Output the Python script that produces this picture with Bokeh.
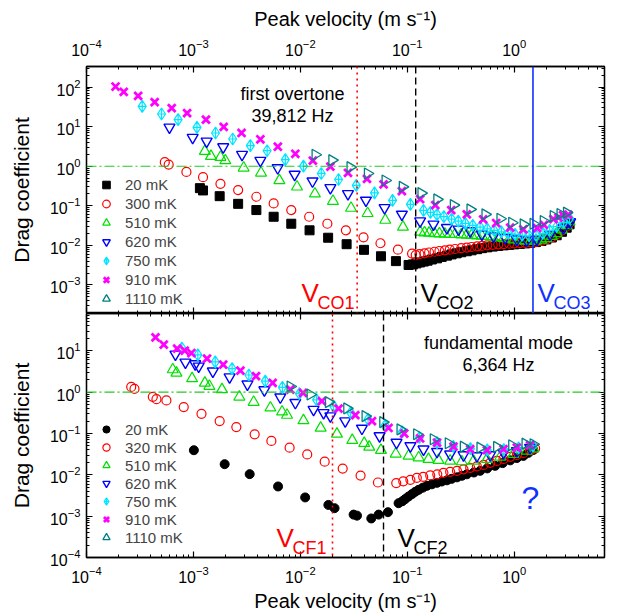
import math
from bokeh.plotting import figure
from bokeh.models import (LogAxis, FixedTicker, Span, Label, Legend, LegendItem, Range1d)
from bokeh.layouts import column
from bokeh.embed import file_html
from bokeh.resources import INLINE

FONT = "Liberation Sans"

# ---------------- ranges / markers ----------------
X_RANGE = (1e-4, 7.0)
TOP_Y_RANGE = (1.9e-4, 330.0)
BOT_Y_RANGE = (1e-4, 80.0)
X_DECADES = [1e-4, 1e-3, 1e-2, 1e-1, 1e0]
TOP_Y_DECADES = [1e-3, 1e-2, 1e-1, 1e0, 1e1, 1e2]
BOT_Y_DECADES = [1e-4, 1e-3, 1e-2, 1e-1, 1e0, 1e1]

V_CO1, V_CO2, V_CO3 = 0.034, 0.12, 1.5
V_CF1, V_CF2 = 0.02, 0.06
C_REF = 1.0

# ---------------- top panel: first overtone 39,812 Hz ----------------
top_labels = ["20 mK", "300 mK", "510 mK", "620 mK", "750 mK", "910 mK", "1110 mK"]

top_20_v = [1.15e-3, 1.23e-3, 1.76e-3, 2.62e-3, 3.88e-3, 5.63e-3, 8.23e-3, 0.0122, 0.0182, 0.0271,
            0.0394, 0.0568, 0.0784, 0.103, 0.113, 0.122, 0.132, 0.143, 0.155, 0.17, 0.19, 0.21,
            0.235, 0.26, 0.29, 0.32, 0.36, 0.4, 0.45, 0.5, 0.56, 0.63, 0.71, 0.8, 0.9, 1.0, 1.13,
            1.27, 1.42, 1.6, 1.8, 2.0, 2.25, 2.5, 2.8, 3.1, 3.3]
top_20_c = [0.279, 0.244, 0.175, 0.112, 0.078, 0.0528, 0.0352, 0.024, 0.0156, 0.0107,
            0.0077, 0.0053, 0.0040, 0.0032, 0.0033, 0.0035, 0.0037, 0.0039, 0.0041, 0.0044, 0.0047,
            0.0051, 0.0055, 0.0059, 0.0063, 0.0067, 0.0071, 0.0075, 0.0080, 0.0085, 0.0089, 0.0093,
            0.0097, 0.0100, 0.0103, 0.0106, 0.0109, 0.0112, 0.0116, 0.0121, 0.0129, 0.0141, 0.0158,
            0.018, 0.022, 0.028, 0.034]

top_300_v = [5.4e-4, 5.87e-4, 8.6e-4, 1.23e-3, 1.79e-3, 2.62e-3, 3.88e-3, 5.63e-3, 8.23e-3, 0.0121,
             0.0179, 0.0267, 0.039, 0.0562, 0.0818, 0.111, 0.12, 0.13, 0.145, 0.16, 0.18, 0.2, 0.225,
             0.25, 0.28, 0.32, 0.36, 0.4, 0.45, 0.5, 0.56, 0.63, 0.71, 0.8, 0.9, 1.0, 1.13, 1.27,
             1.42, 1.6, 1.8, 2.0, 2.25, 2.5, 2.8, 3.1, 3.3]
top_300_c = [1.26, 1.10, 0.718, 0.528, 0.358, 0.249, 0.169, 0.115, 0.078, 0.0528,
             0.0352, 0.024, 0.016, 0.0113, 0.0078, 0.0062, 0.0057, 0.0060, 0.0063, 0.0066, 0.0069,
             0.0072, 0.0075, 0.0078, 0.0081, 0.0085, 0.0088, 0.0091, 0.0094, 0.0097, 0.0100, 0.0103,
             0.0106, 0.0108, 0.0110, 0.0112, 0.0114, 0.0116, 0.0119, 0.0123, 0.0130, 0.0142, 0.016,
             0.019, 0.024, 0.030, 0.037]

top_510_v = [1.28e-3, 1.46e-3, 1.79e-3, 1.99e-3, 2.95e-3, 4.29e-3, 6.37e-3, 9.31e-3, 0.0137, 0.0202,
             0.0298, 0.0426, 0.0623, 0.0912, 0.132, 0.145, 0.16, 0.18, 0.2, 0.225, 0.25, 0.28, 0.32,
             0.36, 0.4, 0.45, 0.5, 0.56, 0.63, 0.71, 0.8, 0.9, 1.0, 1.13, 1.27, 1.42, 1.6, 1.8, 2.0,
             2.25, 2.5, 2.8, 3.1, 3.3]
top_510_c = [2.39, 1.79, 1.69, 1.39, 0.906, 0.678, 0.436, 0.301, 0.201, 0.131,
             0.0875, 0.0644, 0.0436, 0.0291, 0.0218, 0.021, 0.0205, 0.020, 0.0198, 0.0195, 0.0192,
             0.019, 0.0187, 0.0183, 0.018, 0.0176, 0.0172, 0.0167, 0.0162, 0.0156, 0.015, 0.0144,
             0.0138, 0.0133, 0.013, 0.0129, 0.013, 0.0137, 0.015, 0.017, 0.020, 0.025, 0.032, 0.040]

top_620_v = [5.97e-4, 9.84e-4, 1.33e-3, 1.90e-3, 2.85e-3, 4.23e-3, 6.14e-3, 8.85e-3, 0.013, 0.0191,
             0.0279, 0.0411, 0.0614, 0.0891, 0.132, 0.176, 0.235, 0.302, 0.388, 0.499, 0.641, 0.825,
             1.06, 1.31, 1.63, 2.17, 2.89, 3.34]
top_620_c = [9.6, 5.28, 4.26, 3.06, 1.97, 1.39, 0.906, 0.618, 0.419, 0.284,
             0.201, 0.137, 0.089, 0.0607, 0.0412, 0.034, 0.0279, 0.0255, 0.0231, 0.019, 0.0172,
             0.0156, 0.0143, 0.0134, 0.0143, 0.019, 0.0279, 0.039]

top_750_v = [3.32e-4, 5.03e-4, 7.19e-4, 1.08e-3, 1.61e-3, 2.33e-3, 3.41e-3, 4.89e-3, 7.24e-3, 0.0107,
             0.0157, 0.0228, 0.0334, 0.0494, 0.0729, 0.107, 0.142, 0.165, 0.19, 0.22, 0.26, 0.3, 0.35,
             0.41, 0.48, 0.56, 0.65, 0.76, 0.88, 1.02, 1.19, 1.38, 1.6, 1.86, 2.15, 2.5, 2.9, 3.3]
top_750_c = [32.4, 20.8, 15.0, 9.6, 6.9, 4.87, 3.32, 2.46, 1.47, 1.0,
             0.655, 0.462, 0.327, 0.212, 0.137, 0.108, 0.0766, 0.068, 0.06, 0.053, 0.046, 0.041,
             0.036, 0.032, 0.029, 0.026, 0.024, 0.022, 0.020, 0.019, 0.018, 0.0175, 0.018, 0.02,
             0.024, 0.03, 0.038, 0.048]

top_910_v = [1.87e-4, 2.23e-4, 3.04e-4, 4.34e-4, 6.27e-4, 8.73e-4, 1.31e-3, 1.92e-3, 2.82e-3, 4.23e-3,
             6.16e-3, 8.98e-3, 0.0131, 0.0191, 0.0279, 0.042, 0.0601, 0.0891, 0.132, 0.183, 0.258,
             0.361, 0.513, 0.679, 0.918, 1.22, 1.64, 1.9, 2.33, 2.6, 2.87, 3.2]
top_910_c = [103, 75, 59.7, 41.7, 29.4, 22.0, 15.0, 9.9, 6.9, 4.79,
             3.10, 2.06, 1.38, 0.97, 0.678, 0.48, 0.346, 0.234, 0.148, 0.104, 0.078,
             0.061, 0.0454, 0.0367, 0.0282, 0.0255, 0.0274, 0.033, 0.0462, 0.05, 0.0583, 0.06]

top_1110_v = [0.0138, 0.0198, 0.0293, 0.0426, 0.0623, 0.0903, 0.135, 0.190, 0.271, 0.388, 0.536,
              0.740, 0.953, 1.22, 1.51, 1.88, 2.33, 2.7, 3.1]
top_1110_c = [1.95, 1.42, 0.944, 0.655, 0.436, 0.301, 0.209, 0.145, 0.104, 0.081, 0.0607,
              0.0471, 0.0373, 0.034, 0.0352, 0.0412, 0.055, 0.062, 0.067]

# ---------------- bottom panel: fundamental mode 6,364 Hz ----------------
bot_labels = ["20 mK", "320 mK", "510 mK", "620 mK", "750 mK", "910 mK", "1110 mK"]

bot_20_v = [1.01e-3, 1.96e-3, 3.36e-3, 6.19e-3, 0.0111, 0.0183, 0.0209, 0.0315, 0.0339, 0.0461,
            0.054, 0.066, 0.083, 0.09, 0.0958, 0.103, 0.111, 0.119, 0.128, 0.14, 0.153, 0.17, 0.19,
            0.21, 0.235, 0.26, 0.292, 0.325, 0.361, 0.42, 0.481, 0.56, 0.664, 0.78, 0.918, 1.06,
            1.22, 1.36, 1.51]
bot_20_c = [0.0394, 0.0181, 0.0104, 5.23e-3, 2.84e-3, 1.87e-3, 1.56e-3, 1.09e-3, 1.03e-3, 8.8e-4,
            1.09e-3, 1.25e-3, 2.06e-3, 2.3e-3, 2.6e-3, 3.0e-3, 3.43e-3, 3.9e-3, 4.35e-3, 4.9e-3,
            5.43e-3, 5.9e-3, 6.41e-3, 6.9e-3, 7.37e-3, 8.0e-3, 8.7e-3, 9.5e-3, 0.0103, 0.0114,
            0.0125, 0.0143, 0.0165, 0.0192, 0.0224, 0.0255, 0.0287, 0.034, 0.040]

bot_320_v = [2.62e-4, 2.81e-4, 4.17e-4, 4.51e-4, 5.59e-4, 8.12e-4, 1.19e-3, 1.76e-3, 2.52e-3, 3.74e-3,
             5.36e-3, 7.94e-3, 0.0116, 0.0169, 0.0249, 0.0366, 0.0532, 0.0789, 0.0918, 0.107, 0.123,
             0.141, 0.164, 0.191, 0.218, 0.252, 0.292, 0.336, 0.388, 0.448, 0.517, 0.597, 0.689,
             0.795, 0.918, 1.06, 1.22, 1.41, 1.57]
bot_320_c = [1.34, 1.20, 0.77, 0.678, 0.631, 0.435, 0.300, 0.2, 0.143, 0.0957,
             0.066, 0.0455, 0.0312, 0.0208, 0.0142, 0.0096, 6.52e-3, 6.31e-3, 6.97e-3, 7.58e-3,
             8.47e-3, 8.95e-3, 9.7e-3, 0.0103, 0.0112, 0.0118, 0.0125, 0.0136, 0.0148, 0.016,
             0.0174, 0.0195, 0.0217, 0.0243, 0.0272, 0.0303, 0.0339, 0.0389, 0.0435]

bot_510_v = [6.41e-4, 6.94e-4, 9.72e-4, 1.28e-3, 1.41e-3, 1.85e-3, 2.69e-3, 3.66e-3, 5.25e-3, 6.75e-3,
             7.51e-3, 0.0107, 0.0155, 0.022, 0.0306, 0.0396, 0.0441, 0.0568, 0.0781, 0.103, 0.128,
             0.158, 0.196, 0.252, 0.324, 0.417, 0.556, 0.740, 0.985, 1.31, 1.51]
bot_510_c = [3.52, 2.92, 2.14, 1.67, 1.40, 1.16, 0.77, 0.574, 0.419, 0.335,
             0.279, 0.206, 0.136, 0.0973, 0.0686, 0.058, 0.0473, 0.0394, 0.0321, 0.0287, 0.0261,
             0.0239, 0.0226, 0.0217, 0.0209, 0.0217, 0.0239, 0.0272, 0.0315, 0.0379, 0.043]

bot_620_v = [6.79e-4, 8.42e-4, 1.04e-3, 1.12e-3, 1.52e-3, 2.18e-3, 3.2e-3, 4.61e-3, 6.5e-3, 8.98e-3,
             0.0133, 0.0165, 0.0191, 0.0263, 0.0377, 0.0551, 0.0794, 0.107, 0.142, 0.19, 0.252,
             0.336, 0.448, 0.597, 0.795, 1.06, 1.41]
bot_620_c = [8.24, 5.28, 4.81, 4.23, 3.21, 2.32, 1.56, 1.13, 0.758, 0.558,
             0.379, 0.317, 0.264, 0.2, 0.133, 0.0871, 0.0607, 0.05, 0.0416, 0.0364, 0.0315,
             0.0303, 0.0287, 0.0303, 0.0345, 0.0379, 0.0455]

bot_750_v = [7.8e-4, 1.1e-3, 1.6e-3, 2.3e-3, 3.3e-3, 4.7e-3, 6.8e-3, 9.8e-3, 0.0142, 0.0205, 0.0296,
             0.043, 0.062, 0.09, 0.13, 0.19, 0.27, 0.39, 0.56, 0.8, 1.1, 1.5]
bot_750_c = [11.7, 8.0, 5.4, 3.7, 2.6, 1.85, 1.3, 0.92, 0.65, 0.46, 0.32,
             0.22, 0.155, 0.11, 0.08, 0.06, 0.049, 0.043, 0.040, 0.041, 0.045, 0.05]

bot_910_v = [4.42e-4, 5.28e-4, 7.04e-4, 8.29e-4, 9.58e-4, 1.34e-3, 1.9e-3, 2.75e-3, 3.85e-3, 5.51e-3,
             8.06e-3, 0.0106, 0.0159, 0.0228, 0.0327, 0.0468, 0.0668, 0.0937, 0.132, 0.19, 0.271,
             0.388, 0.556, 0.795, 1.06, 1.41]
bot_910_c = [21.1, 14.1, 11.3, 10.1, 8.85, 6.49, 4.65, 3.33, 2.43, 1.68,
             1.16, 0.962, 0.607, 0.40, 0.279, 0.2, 0.136, 0.1, 0.0758, 0.06, 0.0481,
             0.0416, 0.0394, 0.0416, 0.0455, 0.052]

bot_1110_v = [8.06e-3, 0.0124, 0.0184, 0.0273, 0.0405, 0.0593, 0.086, 0.123, 0.176, 0.243, 0.336,
              0.481, 0.689, 0.953, 1.27, 1.51]
bot_1110_c = [1.37, 0.88, 0.574, 0.405, 0.264, 0.189, 0.126, 0.0957, 0.0725, 0.058, 0.0481,
              0.0455, 0.0473, 0.052, 0.0568, 0.055]

# marker styles: (marker, line colour, fill colour, size, line width, angle)
STYLES = [
    ("square", "black", "black", 9, 1, 0.0),
    ("circle", "#FF0000", None, 9, 1.2, 0.0),
    ("triangle", "#00E000", None, 11, 1.2, 0.0),
    ("inverted_triangle", "#0000FF", None, 11, 1.4, 0.0),
    ("diamond_cross", "#00E5FF", None, 12, 1.2, 0.0),
    ("x", "#FF00FF", None, 11, 2.8, 0.0),
    ("triangle", "#008080", None, 11, 1.3, -math.pi / 2),
]
BOT_STYLES = [("circle", "black", "black", 9, 1, 0.0)] + STYLES[1:]

MINORS = [m * 10.0 ** k for k in range(-5, 3) for m in range(2, 10)]


def style_axis(ax, majors, labels=True):
    ax.ticker = FixedTicker(ticks=majors, minor_ticks=MINORS)
    ax.major_tick_in = 6
    ax.major_tick_out = 0
    ax.minor_tick_in = 3
    ax.minor_tick_out = 0
    ax.axis_line_color = "black"
    ax.axis_line_width = 1.3
    ax.major_tick_line_color = "black"
    ax.major_tick_line_width = 1.2
    ax.minor_tick_line_color = "black"
    ax.minor_tick_line_width = 1.0
    if labels:
        ax.major_label_text_font = FONT
        ax.major_label_text_font_size = "16px"
        ax.major_label_text_color = "black"
        ax.axis_label_text_font = FONT
        ax.axis_label_text_font_style = "normal"
        ax.axis_label_text_color = "black"
    else:
        ax.major_label_text_font_size = "1px"
        ax.major_label_text_alpha = 0
        ax.major_label_standoff = 0


def make_panel(height, yr, ydec, xlabel_loc, borders, x_standoffs):
    p = figure(width=620, height=height, x_axis_type="log", y_axis_type="log",
               x_range=Range1d(*X_RANGE), y_range=Range1d(*yr),
               x_axis_location=xlabel_loc, output_backend="svg", toolbar_location=None,
               min_border_left=86, min_border_right=16,
               min_border_top=borders[0], min_border_bottom=borders[1])
    p.xgrid.visible = False
    p.ygrid.visible = False
    p.outline_line_color = "black"
    p.outline_line_width = 1.3
    p.background_fill_color = "white"
    p.border_fill_color = "white"
    xa = p.xaxis[0]
    style_axis(xa, X_DECADES)
    xa.axis_label = "Peak velocity (m s\u207b\u00b9)"
    xa.axis_label_text_font_size = "20px"
    xa.major_label_standoff = x_standoffs[0]
    xa.axis_label_standoff = x_standoffs[1]
    ya = p.yaxis[0]
    style_axis(ya, ydec)
    ya.axis_label = "Drag coefficient"
    ya.axis_label_text_font_size = "21px"
    ya.major_label_standoff = 6
    ya.axis_label_standoff = 14
    other = "below" if xlabel_loc == "above" else "above"
    xb = LogAxis()
    style_axis(xb, X_DECADES, labels=False)
    p.add_layout(xb, other)
    yb = LogAxis()
    style_axis(yb, ydec, labels=False)
    p.add_layout(yb, "right")
    p.add_layout(Span(location=C_REF, dimension="width", line_color="#22CC22",
                      line_dash="10 3 2 3", line_width=1.1))
    return p


def add_series(p, series, labels, styles, legend_loc, row_h):
    items = []
    for (vv, cc), lab, st in zip(series, labels, styles):
        marker, lc, fc, size, lw, ang = st
        r = p.scatter(vv, cc, marker=marker, size=size, line_color=lc,
                      fill_color=fc, line_width=lw, angle=ang)
        items.append(LegendItem(label=lab, renderers=[r]))
    leg = Legend(items=items, location=legend_loc, border_line_color=None,
                 background_fill_alpha=0, label_text_font=FONT, label_text_font_size="15px",
                 glyph_width=22, glyph_height=row_h, label_height=row_h, spacing=0, padding=0,
                 margin=0, label_standoff=8)
    p.add_layout(leg)


def vlabel(p, x, y, main, sub, color):
    p.add_layout(Label(x=x, y=y, x_units="screen", y_units="screen", text=main,
                       text_font=FONT, text_font_size="26px", text_color=color,
                       text_baseline="alphabetic"))
    p.add_layout(Label(x=x + 16, y=y - 10, x_units="screen", y_units="screen", text=sub,
                       text_font=FONT, text_font_size="18px", text_color=color,
                       text_baseline="alphabetic"))


def note(p, x, y, text, size="17px", color="black"):
    p.add_layout(Label(x=x, y=y, x_units="screen", y_units="screen", text=text,
                       text_font=FONT, text_font_size=size, text_color=color,
                       text_align="center", text_baseline="alphabetic"))


# ---------------- top ----------------
p1 = make_panel(313, TOP_Y_RANGE, TOP_Y_DECADES, "above", (66, 0), (11, 6))
p1.add_layout(Span(location=V_CO1, dimension="height", line_color="#FF0000",
                   line_dash="2 4", line_width=1.6))
p1.add_layout(Span(location=V_CO2, dimension="height", line_color="black",
                   line_dash="7 4", line_width=1.4))
p1.add_layout(Span(location=V_CO3, dimension="height", line_color="#1030FF",
                   line_width=1.6))
add_series(p1, [(top_20_v, top_20_c), (top_300_v, top_300_c), (top_510_v, top_510_c),
                (top_620_v, top_620_c), (top_750_v, top_750_c), (top_910_v, top_910_c),
                (top_1110_v, top_1110_c)], top_labels, STYLES, (9, 5), 19)
note(p1, 206, 220, "first overtone", size="18px")
note(p1, 206, 198, "39,812 Hz", size="18px")
vlabel(p1, 215, 21, "V", "CO1", "#FF0000")
vlabel(p1, 334, 21, "V", "CO2", "black")
vlabel(p1, 451, 21, "V", "CO3", "#1030FF")

# ---------------- bottom ----------------
p2 = make_panel(303, BOT_Y_RANGE, BOT_Y_DECADES, "below", (0, 59), (8, 4))
p2.add_layout(Span(location=V_CF1, dimension="height", line_color="#FF0000",
                   line_dash="2 4", line_width=1.6))
p2.add_layout(Span(location=V_CF2, dimension="height", line_color="black",
                   line_dash="7 4", line_width=1.4))
add_series(p2, [(bot_20_v, bot_20_c), (bot_320_v, bot_320_c), (bot_510_v, bot_510_c),
                (bot_620_v, bot_620_c), (bot_750_v, bot_750_c), (bot_910_v, bot_910_c),
                (bot_1110_v, bot_1110_c)], bot_labels, BOT_STYLES, (9, 11), 18)
note(p2, 412, 215, "fundamental mode", size="18px")
note(p2, 412, 193, "6,364 Hz", size="18px")
vlabel(p2, 190, 20, "V", "CF1", "#FF0000")
vlabel(p2, 311, 20, "V", "CF2", "black")
note(p2, 444, 60, "?", size="32px", color="#1030FF")

layout = column(p1, p2, spacing=0)
open("out.html", "w").write(file_html(layout, INLINE))
